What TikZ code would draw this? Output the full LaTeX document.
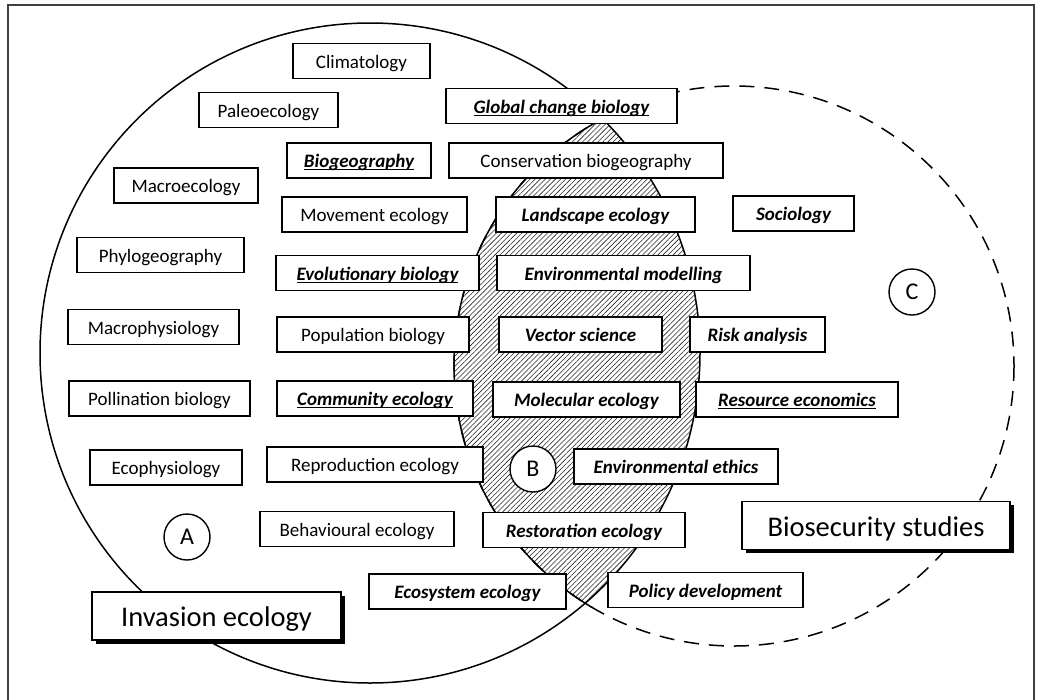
\documentclass[tikz,border=0pt]{standalone}
\usepackage{fontspec}
\setmainfont{Carlito}
\usetikzlibrary{patterns.meta,shadows}

% underline that sits just under the baseline
\newcommand{\fieldul}[1]{\setbox0\hbox{#1}\rlap{\copy0}\rule[-2.6pt]{\wd0}{0.9pt}}

\tikzset{
  field/.style={draw, fill=white, line width=1.1pt, minimum height=35pt, inner sep=0pt,
    text height=14pt, text depth=0pt, font=\fontsize{19}{20}\selectfont},
  keyfield/.style={field, font=\fontsize{19}{20}\selectfont\bfseries\itshape},
  areabox/.style={draw, fill=white, line width=1.6pt, minimum height=48pt, inner sep=0pt,
    text height=21pt, text depth=0pt, font=\fontsize{28.5}{30}\selectfont,
    drop shadow={shadow xshift=3.5pt, shadow yshift=-3.5pt, fill=black, opacity=1}},
  tag/.style={circle, draw, fill=white, line width=1.4pt, minimum size=46pt, inner sep=0pt,
    font=\fontsize{24}{26}\selectfont}
}

\begin{document}
\begin{tikzpicture}[x=1pt, y=-1pt]
  \useasboundingbox (0,0) rectangle (1057,699);
  \draw[line width=1.5pt, black!75] (8,705) -- (8,5) -- (1034,5) -- (1034,705);

  % overlap of the two fields
  \begin{scope}
    \clip (370,353) circle[radius=330];
    \fill[pattern={Lines[angle=45, distance=3.6pt, line width=0.6pt]}, pattern color=black!85]
      (734,366) circle[radius=280];
  \end{scope}
  \draw[line width=1.5pt] (370,353) circle[radius=330];
  \draw[line width=1.5pt, dash pattern=on 15pt off 10pt] (734,366) circle[radius=280];
  \begin{scope}
    \clip (370,353) circle[radius=338];
    \draw[line width=1.5pt] (734,366) circle[radius=280];
  \end{scope}

  % fields
  \node[field, minimum width=137] (clim) at (361.5,61) {Climatology};
  \node[field, minimum width=139] (paleo) at (268.5,110) {Paleoecology};
  \node[keyfield, minimum width=231] (global) at (561.5,106) {\fieldul{Global change biology}};
  \node[keyfield, minimum width=144] (biogeo) at (359,160.5) {\fieldul{Biogeography}};
  \node[field, minimum width=274] (conserv) at (586,160.5) {Conservation biogeography};
  \node[field, minimum width=144] (macroeco) at (186,185.5) {Macroecology};
  \node[field, minimum width=185] (move) at (374.5,214.5) {Movement ecology};
  \node[keyfield, minimum width=199] (landsc) at (595.5,214.5) {Landscape ecology};
  \node[keyfield, minimum width=121] (socio) at (793.5,213.5) {Sociology};
  \node[field, minimum width=167] (phylo) at (160.5,255) {Phylogeography};
  \node[keyfield, minimum width=203] (evol) at (377.5,273) {\fieldul{Evolutionary biology}};
  \node[keyfield, minimum width=253] (envmod) at (623.5,273) {Environmental modelling};
  \node[field, minimum width=171] (macrophys) at (153.5,327) {Macrophysiology};
  \node[field, minimum width=192] (popbio) at (373,334.5) {Population biology};
  \node[keyfield, minimum width=163] (vector) at (580.5,334.5) {Vector science};
  \node[keyfield, minimum width=135] (risk) at (757.5,334.5) {Risk analysis};
  \node[field, minimum width=181] (pollin) at (159.5,398.5) {Pollination biology};
  \node[keyfield, minimum width=196] (commun) at (375,398.5) {\fieldul{Community ecology}};
  \node[keyfield, minimum width=187] (molec) at (586.5,399.5) {Molecular ecology};
  \node[keyfield, minimum width=202] (resource) at (797,399.5) {\fieldul{Resource economics}};
  \node[field, minimum width=152] (ecophys) at (166,467.5) {Ecophysiology};
  \node[field, minimum width=216] (repro) at (375,464.5) {Reproduction ecology};
  \node[keyfield, minimum width=204] (ethics) at (676,466.5) {Environmental ethics};
  \node[field, minimum width=194] (behav) at (357,529) {Behavioural ecology};
  \node[keyfield, minimum width=202] (restor) at (584,530) {Restoration ecology};
  \node[keyfield, minimum width=197] (ecosys) at (467.5,591.5) {Ecosystem ecology};
  \node[keyfield, minimum width=195] (policy) at (705.5,590) {Policy development};

  % the two disciplines
  \node[areabox, minimum width=249] (invasion) at (216.5,616) {Invasion ecology};
  \node[areabox, minimum width=268] (biosec) at (876,525.5) {Biosecurity studies};

  % region tags
  \node[tag] (tagA) at (187,537) {A};
  \node[tag] (tagB) at (533,469) {B};
  \node[tag] (tagC) at (912,292) {C};
\end{tikzpicture}
\end{document}
